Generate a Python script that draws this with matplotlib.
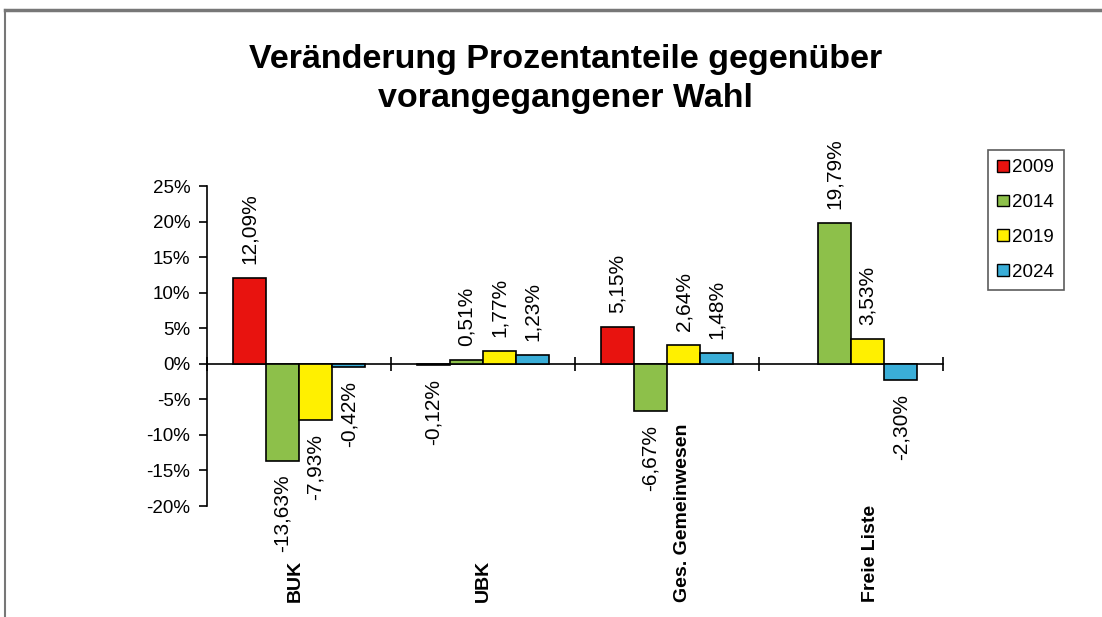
import matplotlib.pyplot as plt
import matplotlib.transforms as mtransforms
import numpy as np
from matplotlib.patches import Patch
from matplotlib.lines import Line2D

plt.rcParams['font.family'] = ['Liberation Sans', 'DejaVu Sans']

parteien = ["BUK", "UBK", "Ges. Gemeinwesen", "Freie Liste"]
jahre = ["2009", "2014", "2019", "2024"]
v2009 = [12.09, -0.12, 5.15, np.nan]
v2014 = [-13.63, 0.51, -6.67, 19.79]
v2019 = [-7.93, 1.77, 2.64, 3.53]
v2024 = [-0.42, 1.23, 1.48, -2.30]
farben = ["#E8130F", "#8DC04A", "#FFF000", "#3AAED8"]

serien = [v2009, v2014, v2019, v2024]

fig = plt.figure(figsize=(11.02, 6.17), dpi=100)
ax = fig.add_axes([0.1878, 0.1799, 0.668, 0.5186])

x = np.arange(len(parteien)) + 0.5
bw = 0.18
for i, (werte, farbe) in enumerate(zip(serien, farben)):
    pos = x + (i - 1.5) * bw
    ax.bar(pos, werte, width=bw, color=farbe, edgecolor="black", linewidth=1.2, zorder=3)
    for px, v in zip(pos, werte):
        if np.isnan(v):
            continue
        txt = f"{v:.2f}".replace(".", ",") + "%"
        if v >= 0:
            ax.annotate(txt, (px, v), xytext=(0, 10), textcoords="offset points",
                        rotation=90, ha="center", va="bottom", fontsize=15)
        else:
            ax.annotate(txt, (px, v), xytext=(0, -10), textcoords="offset points",
                        rotation=90, ha="center", va="top", fontsize=15)

ax.set_xlim(0, 4)
ax.set_ylim(-20, 25)
ax.set_yticks(np.arange(-20, 26, 5))
ax.set_yticklabels([f"{t}%" for t in range(-20, 26, 5)], fontsize=13.5)
ax.set_xticks(np.arange(0, 5))
ax.set_xticklabels([])
ax.spines["top"].set_visible(False)
ax.spines["right"].set_visible(False)
ax.spines["bottom"].set_position(("data", 0))
ax.spines["left"].set_linewidth(1.2)
ax.spines["bottom"].set_linewidth(1.2)
ax.tick_params(axis="y", direction="out", length=6, width=1.2, pad=6)
ax.tick_params(axis="x", direction="inout", length=10, width=1.2)

# Kategorienbeschriftung (Excel versetzt lange Texte leicht nach rechts)
verschiebung = [-3, 0, 11, 14]
trans = mtransforms.blended_transform_factory(ax.transData, fig.transFigure)
for px, name, dx in zip(x, parteien, verschiebung):
    t = trans + mtransforms.ScaledTranslation(dx / 72, 0, fig.dpi_scale_trans)
    ax.text(px, 0.025, name, transform=t,
            rotation=90, ha="center", va="bottom", fontsize=14, fontweight="bold")

fig.text(0.513, 0.872, "Veränderung Prozentanteile gegenüber\nvorangegangener Wahl",
         ha="center", va="center", fontsize=24.5, fontweight="bold", linespacing=1.35)

handles = [Patch(facecolor=f, edgecolor="black", linewidth=1) for f in farben]
leg = fig.legend(handles, jahre, loc="upper left", bbox_to_anchor=(0.8966, 0.757),
                 fontsize=13.5, frameon=True, fancybox=False, borderaxespad=0,
                 handlelength=0.6, handleheight=0.6, handletextpad=0.2,
                 labelspacing=0.95, borderpad=0.5)
leg.get_frame().set_edgecolor("#333333")
leg.get_frame().set_linewidth(1.2)

# Rahmen des Diagrammbereichs
fig.add_artist(Line2D([5 / 1102, 1], [1 - 10 / 617, 1 - 10 / 617], color="#777777", lw=2.5, transform=fig.transFigure))
fig.add_artist(Line2D([5 / 1102, 5 / 1102], [0, 1 - 10 / 617], color="#777777", lw=1.5, transform=fig.transFigure))

fig.savefig("out.png", dpi=100)
